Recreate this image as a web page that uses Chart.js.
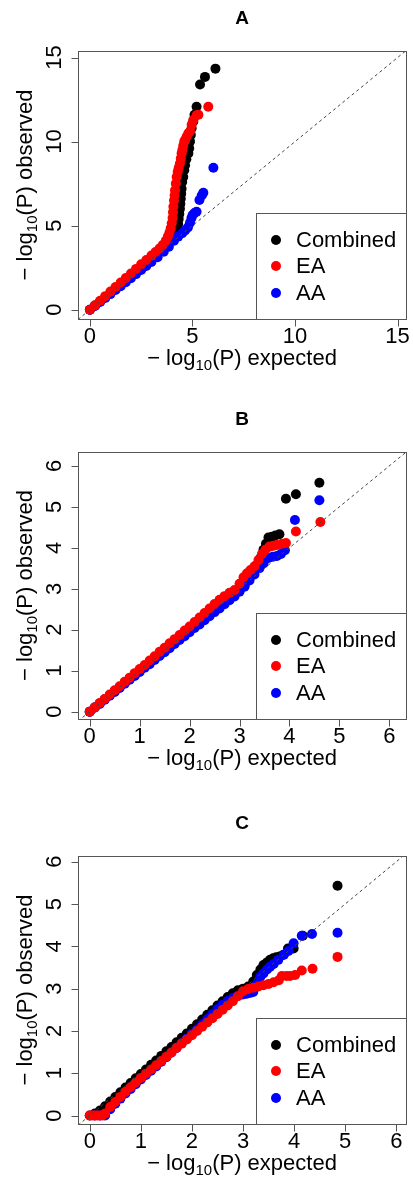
<!DOCTYPE html>
<html>
<head>
<meta charset="utf-8">
<script src="https://cdn.jsdelivr.net/npm/chart.js@4.4.1/dist/chart.umd.min.js"></script>
<style>
  body { margin: 0; background: #fff; }
  canvas.panel { position: absolute; left: 0; }
</style>
</head>
<body>
<canvas id="qqA" class="panel" width="413" height="380" style="top:0px"></canvas>
<canvas id="qqB" class="panel" width="413" height="400" style="top:380px"></canvas>
<canvas id="qqC" class="panel" width="413" height="400" style="top:780px"></canvas>
<script>
// Series names and tick labels
const seriesNames = ["Combined", "EA", "AA"];
const seriesColors = ["#000000", "#ff0000", "#0000ff"];
const ticksA = [0, 5, 10, 15];
const ticksBC = [0, 1, 2, 3, 4, 5, 6];

// Panel A: -log10(P) expected / observed
const aCombinedExp = [0, 0.25, 0.5, 0.75, 1, 1.25, 1.5, 1.75, 2, 2.25, 2.5, 2.75, 3, 3.3, 3.6, 3.8, 4.0, 4.15, 4.25, 4.3, 4.33, 4.36, 4.39, 4.41, 4.43, 4.45, 4.47, 4.5, 4.55, 4.6, 4.64, 4.7, 4.8, 4.84, 4.88, 4.92, 4.96, 5.04, 5.1, 5.2, 5.37, 5.61, 6.12];
const aCombinedObs = [0, 0.25, 0.5, 0.75, 1.0, 1.26, 1.51, 1.77, 2.03, 2.29, 2.55, 2.81, 3.08, 3.4, 3.75, 4.0, 4.3, 4.6, 4.85, 5.1, 5.4, 5.7, 6.0, 6.3, 6.6, 6.9, 7.2, 7.6, 7.9, 8.3, 8.6, 8.95, 9.3, 9.6, 10.0, 10.4, 10.8, 11.2, 11.6, 12.07, 13.4, 13.85, 14.34];
const aEAExp = [0, 0.25, 0.5, 0.75, 1, 1.25, 1.5, 1.75, 2, 2.25, 2.5, 2.75, 3, 3.2, 3.4, 3.55, 3.7, 3.8, 3.88, 3.94, 3.99, 4.03, 4.05, 4.07, 4.1, 4.13, 4.15, 4.19, 4.23, 4.28, 4.33, 4.39, 4.43, 4.47, 4.51, 4.55, 4.6, 4.64, 4.72, 4.8, 4.88, 4.96, 5.04, 5.2, 5.29, 5.77];
const aEAObs = [0, 0.27, 0.54, 0.81, 1.08, 1.35, 1.62, 1.89, 2.16, 2.43, 2.7, 2.96, 3.22, 3.43, 3.65, 3.85, 4.1, 4.35, 4.6, 4.85, 5.15, 5.45, 5.8, 6.13, 6.5, 6.8, 7.1, 7.5, 7.9, 8.2, 8.45, 8.7, 9.0, 9.3, 9.5, 9.75, 10.0, 10.1, 10.3, 10.5, 10.6, 11.0, 11.28, 11.57, 11.6, 12.07];
const aAAExp = [0, 0.25, 0.5, 0.75, 1, 1.25, 1.5, 1.75, 2, 2.25, 2.5, 2.75, 3, 3.3, 3.6, 3.85, 4.1, 4.3, 4.5, 4.64, 4.78, 4.88, 4.95, 5.01, 5.1, 5.2, 5.34, 5.45, 5.53, 6.02];
const aAAObs = [0, 0.23, 0.46, 0.7, 0.93, 1.17, 1.4, 1.64, 1.88, 2.12, 2.36, 2.6, 2.84, 3.13, 3.45, 3.75, 4.1, 4.35, 4.55, 4.72, 4.9, 5.18, 5.45, 5.64, 5.75, 5.83, 6.53, 6.8, 6.96, 8.45];

// Panel B
const bCombinedExp = [0, 0.1, 0.2, 0.3, 0.4, 0.5, 0.6, 0.7, 0.8, 0.9, 1.0, 1.1, 1.2, 1.3, 1.4, 1.5, 1.6, 1.7, 1.8, 1.9, 2.0, 2.1, 2.2, 2.3, 2.4, 2.5, 2.6, 2.7, 2.8, 2.9, 3.0, 3.1, 3.2, 3.28, 3.35, 3.42, 3.48, 3.53, 3.58, 3.65, 3.72, 3.8, 3.93, 4.13, 4.6];
const bCombinedObs = [0, 0.1, 0.2, 0.3, 0.4, 0.5, 0.6, 0.7, 0.8, 0.89, 0.99, 1.09, 1.19, 1.29, 1.39, 1.49, 1.59, 1.69, 1.79, 1.89, 1.99, 2.09, 2.19, 2.28, 2.38, 2.47, 2.57, 2.67, 2.77, 2.86, 2.95, 3.07, 3.25, 3.42, 3.58, 3.75, 3.95, 4.1, 4.25, 4.27, 4.3, 4.33, 5.2, 5.31, 5.59];
const bEAExp = [0, 0.1, 0.2, 0.3, 0.4, 0.5, 0.6, 0.7, 0.8, 0.9, 1.0, 1.1, 1.2, 1.3, 1.4, 1.5, 1.6, 1.7, 1.8, 1.9, 2.0, 2.1, 2.2, 2.3, 2.4, 2.5, 2.6, 2.7, 2.8, 2.9, 3.0, 3.08, 3.15, 3.22, 3.3, 3.38, 3.45, 3.52, 3.6, 3.68, 3.75, 3.85, 3.93, 4.13, 4.62];
const bEAObs = [0, 0.1, 0.21, 0.31, 0.42, 0.52, 0.62, 0.73, 0.83, 0.94, 1.04, 1.14, 1.25, 1.35, 1.46, 1.56, 1.67, 1.77, 1.87, 1.98, 2.08, 2.19, 2.3, 2.41, 2.52, 2.63, 2.73, 2.82, 2.9, 2.97, 3.12, 3.28, 3.38, 3.46, 3.55, 3.7, 3.85, 3.95, 4.03, 4.05, 4.07, 4.1, 4.12, 4.4, 4.63];
const bAAExp = [0, 0.1, 0.2, 0.3, 0.4, 0.5, 0.6, 0.7, 0.8, 0.9, 1.0, 1.1, 1.2, 1.3, 1.4, 1.5, 1.6, 1.7, 1.8, 1.9, 2.0, 2.1, 2.2, 2.3, 2.4, 2.5, 2.6, 2.7, 2.8, 2.9, 3.0, 3.1, 3.2, 3.3, 3.4, 3.48, 3.58, 3.67, 3.75, 3.83, 3.91, 4.11, 4.6];
const bAAObs = [0, 0.1, 0.19, 0.29, 0.39, 0.48, 0.58, 0.68, 0.78, 0.87, 0.97, 1.07, 1.16, 1.26, 1.36, 1.45, 1.55, 1.65, 1.75, 1.84, 1.94, 2.04, 2.13, 2.23, 2.33, 2.43, 2.52, 2.62, 2.72, 2.81, 2.93, 3.05, 3.2, 3.35, 3.5, 3.62, 3.75, 3.78, 3.8, 3.85, 3.94, 4.68, 5.16];

// Panel C
const cCombinedExp = [0, 0.1, 0.2, 0.3, 0.4, 0.5, 0.6, 0.7, 0.8, 0.9, 1.0, 1.1, 1.2, 1.3, 1.4, 1.5, 1.6, 1.7, 1.8, 1.9, 2.0, 2.1, 2.2, 2.3, 2.4, 2.5, 2.6, 2.7, 2.8, 2.9, 3.0, 3.1, 3.2, 3.27, 3.34, 3.4, 3.47, 3.53, 3.59, 3.65, 3.72, 3.79, 3.88, 3.99, 4.17, 4.85];
const cCombinedObs = [0, 0.05, 0.12, 0.22, 0.33, 0.44, 0.55, 0.66, 0.77, 0.88, 0.98, 1.09, 1.2, 1.3, 1.41, 1.52, 1.62, 1.73, 1.84, 1.94, 2.05, 2.16, 2.27, 2.38, 2.49, 2.6, 2.7, 2.8, 2.89, 2.96, 3.0, 3.05, 3.17, 3.32, 3.45, 3.56, 3.62, 3.68, 3.72, 3.74, 3.76, 3.8, 3.95, 3.95, 4.25, 5.43];
const cEAExp = [0, 0.05, 0.1, 0.15, 0.2, 0.25, 0.3, 0.4, 0.5, 0.6, 0.7, 0.8, 0.9, 1.0, 1.1, 1.2, 1.3, 1.4, 1.5, 1.6, 1.7, 1.8, 1.9, 2.0, 2.1, 2.2, 2.3, 2.4, 2.5, 2.6, 2.7, 2.8, 2.9, 3.0, 3.1, 3.2, 3.3, 3.4, 3.5, 3.6, 3.7, 3.76, 3.85, 3.92, 4.02, 4.15, 4.36, 4.85];
const cEAObs = [0, 0, 0, 0, 0, 0, 0.05, 0.2, 0.32, 0.44, 0.56, 0.67, 0.78, 0.89, 0.99, 1.09, 1.19, 1.29, 1.39, 1.49, 1.6, 1.7, 1.8, 1.9, 2.0, 2.1, 2.2, 2.3, 2.4, 2.5, 2.6, 2.7, 2.82, 2.94, 2.99, 3.02, 3.05, 3.08, 3.11, 3.15, 3.2, 3.3, 3.3, 3.3, 3.32, 3.43, 3.47, 3.75];
const cAAExp = [0.1, 0.2, 0.3, 0.4, 0.5, 0.6, 0.7, 0.8, 0.9, 1.0, 1.1, 1.2, 1.3, 1.4, 1.5, 1.6, 1.7, 1.8, 1.9, 2.0, 2.1, 2.2, 2.3, 2.4, 2.5, 2.6, 2.7, 2.8, 2.9, 3.0, 3.07, 3.14, 3.2, 3.27, 3.34, 3.4, 3.47, 3.53, 3.6, 3.69, 3.8, 3.89, 3.99, 4.15, 4.35, 4.85];
const cAAObs = [0, 0, 0, 0.15, 0.28, 0.4, 0.52, 0.63, 0.74, 0.85, 0.96, 1.06, 1.16, 1.27, 1.38, 1.49, 1.6, 1.71, 1.82, 1.93, 2.04, 2.16, 2.28, 2.4, 2.52, 2.62, 2.71, 2.78, 2.83, 2.86, 2.88, 2.9, 2.92, 3.1, 3.28, 3.36, 3.45, 3.52, 3.58, 3.68, 3.8, 3.89, 4.07, 4.25, 4.29, 4.32];

const FONT = "'Liberation Sans', Arial, sans-serif";

function toPoints(xs, ys) {
  return xs.map((x, i) => ({ x: x, y: ys[i] }));
}

// draws "-log10(P) <word>" centred on 0, baseline at 0, in the current frame
function drawLogLabel(ctx, word) {
  const parts = [
    { t: "\u2212 log", size: 22, dy: 0 },
    { t: "10", size: 15, dy: 5 },
    { t: "(P) " + word, size: 22, dy: 0 }
  ];
  let total = 0;
  parts.forEach(p => {
    ctx.font = p.size + "px " + FONT;
    p.w = ctx.measureText(p.t).width;
    total += p.w;
  });
  let x = -total / 2;
  ctx.textAlign = "left";
  parts.forEach(p => {
    ctx.font = p.size + "px " + FONT;
    ctx.fillText(p.t, x, p.dy);
    x += p.w;
  });
}

// R-like frame, axes, titles and legend
const rFrame = {
  id: "rFrame",
  afterDraw(chart, args, opts) {
    const ctx = chart.ctx;
    const a = chart.chartArea;
    const xs = chart.scales.x, ys = chart.scales.y;
    const L = Math.round(a.left), R = Math.round(a.right), T = Math.round(a.top), B = Math.round(a.bottom);
    ctx.save();
    ctx.strokeStyle = "#555";
    ctx.lineWidth = 1;
    ctx.strokeRect(L + 0.5, T + 0.5, R - L, B - T);

    ctx.beginPath();
    opts.ticks.forEach(v => {
      const px = Math.round(xs.getPixelForValue(v)) + 0.5;
      ctx.moveTo(px, B + 0.5); ctx.lineTo(px, B + 7.5);
      const py = Math.round(ys.getPixelForValue(v)) + 0.5;
      ctx.moveTo(L + 0.5, py); ctx.lineTo(L - 6.5, py);
    });
    ctx.stroke();

    ctx.fillStyle = "#000";
    ctx.font = "22px " + FONT;
    ctx.textAlign = "center";
    ctx.textBaseline = "alphabetic";
    opts.ticks.forEach(v => {
      ctx.fillText(String(v), xs.getPixelForValue(v), B + 24);
      ctx.save();
      ctx.translate(L - 17, ys.getPixelForValue(v));
      ctx.rotate(-Math.PI / 2);
      ctx.fillText(String(v), 0, 0);
      ctx.restore();
    });

    // axis titles
    ctx.save();
    ctx.translate((L + R) / 2, B + 46);
    drawLogLabel(ctx, "expected");
    ctx.restore();
    ctx.save();
    ctx.translate(L - 46, (T + B) / 2);
    ctx.rotate(-Math.PI / 2);
    drawLogLabel(ctx, "observed");
    ctx.restore();

    // panel letter
    ctx.font = "bold 19px " + FONT;
    ctx.textAlign = "center";
    ctx.textBaseline = "middle";
    ctx.fillText(opts.title, (L + R) / 2, T - 32);

    // legend box, bottom right
    const lx = R - 150, ly = B - 106;
    ctx.fillStyle = "#fff";
    ctx.fillRect(lx, ly, R - lx, B - ly);
    ctx.strokeRect(lx + 0.5, ly + 0.5, R - lx, B - ly);
    const rowY = [B - 79, B - 53, B - 26];
    ctx.font = "22px " + FONT;
    ctx.textAlign = "left";
    seriesNames.forEach((name, i) => {
      ctx.fillStyle = seriesColors[i];
      ctx.beginPath();
      ctx.arc(lx + 20, rowY[i], 5, 0, Math.PI * 2);
      ctx.fill();
      ctx.fillStyle = "#000";
      ctx.fillText(name, lx + 40, rowY[i] + 1);
    });
    ctx.restore();
  }
};

const panels = [
  { id: "qqA", title: "A", ticks: ticksA, xRange: [-0.58, 15.41], yRange: [-0.55, 15.39],
    padding: { left: 78, right: 7, top: 51, bottom: 61 },
    series: [[aCombinedExp, aCombinedObs], [aEAExp, aEAObs], [aAAExp, aAAObs]] },
  { id: "qqB", title: "B", ticks: ticksBC, xRange: [-0.235, 6.335], yRange: [-0.18, 6.34],
    padding: { left: 78, right: 7, top: 72, bottom: 61 },
    series: [[bCombinedExp, bCombinedObs], [bEAExp, bEAObs], [bAAExp, bAAObs]] },
  { id: "qqC", title: "C", ticks: ticksBC, xRange: [-0.23, 6.19], yRange: [-0.2, 6.135],
    padding: { left: 78, right: 7, top: 76, bottom: 56 },
    series: [[cCombinedExp, cCombinedObs], [cEAExp, cEAObs], [cAAExp, cAAObs]] }
];

// EA drawn on top, then AA, then Combined underneath
const drawOrder = [3, 1, 2];

panels.forEach(p => {
  const datasets = p.series.map((s, i) => ({
    label: seriesNames[i],
    data: toPoints(s[0], s[1]),
    backgroundColor: seriesColors[i],
    borderWidth: 0,
    pointRadius: 5,
    pointHoverRadius: 5,
    showLine: false,
    clip: false,
    order: drawOrder[i]
  }));
  const lo = Math.min(p.xRange[0], p.yRange[0]), hi = Math.max(p.xRange[1], p.yRange[1]);
  datasets.push({
    label: "y = x",
    data: [{ x: lo, y: lo }, { x: hi, y: hi }],
    showLine: true,
    borderColor: "#444",
    borderWidth: 1,
    borderDash: [3, 3],
    pointRadius: 0,
    order: 0
  });
  new Chart(document.getElementById(p.id), {
    type: "scatter",
    data: { datasets: datasets },
    options: {
      responsive: false,
      animation: false,
      layout: { padding: p.padding },
      scales: {
        x: { type: "linear", display: false, min: p.xRange[0], max: p.xRange[1] },
        y: { type: "linear", display: false, min: p.yRange[0], max: p.yRange[1] }
      },
      plugins: {
        legend: { display: false },
        tooltip: { enabled: false },
        rFrame: { ticks: p.ticks, title: p.title }
      }
    },
    plugins: [rFrame]
  });
});
</script>
</body>
</html>
